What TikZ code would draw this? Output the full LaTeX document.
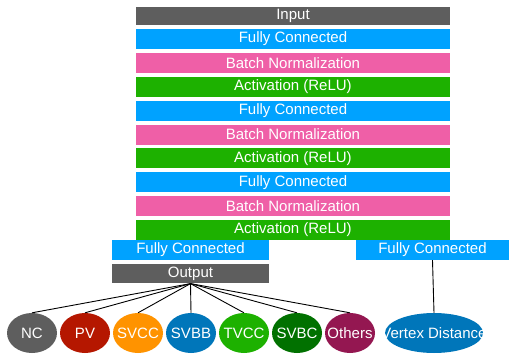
\documentclass[tikz,border=0pt]{standalone}
\usepackage{fontspec}
\setmainfont{Liberation Sans}
\usetikzlibrary{positioning, shapes.geometric}

\definecolor{layergray}{HTML}{5E5E5E}
\definecolor{fcblue}{HTML}{00A2FF}
\definecolor{bnpink}{HTML}{EF5FA7}
\definecolor{actgreen}{HTML}{1DB100}
\definecolor{pvred}{HTML}{B51700}
\definecolor{svccorange}{HTML}{FF9300}
\definecolor{svbbblue}{HTML}{0076BA}
\definecolor{svbcgreen}{HTML}{017100}
\definecolor{otherspurple}{HTML}{941751}

\begin{document}
\begin{tikzpicture}[
      x=1pt, y=1pt,
      node distance=3.5pt,
      every node/.style={text=white, font=\fontsize{15}{17}\selectfont, inner sep=0pt},
      layer/.style={rectangle, minimum width=314pt, minimum height=20pt},
      fc/.style={layer, fill=fcblue},
      bn/.style={layer, fill=bnpink},
      act/.style={layer, fill=actgreen},
      cls/.style={ellipse, minimum width=50pt, minimum height=40pt},
      wire/.style={draw=black, line width=0.9pt}
    ]
      \useasboundingbox (0,0) rectangle (509,-356);
      % shared trunk
      \node[layer, fill=layergray, minimum height=18pt] (in) at (293,-16) {Input};
      \node[fc, below=of in] (fc1) {Fully Connected};
      \node[bn, below=of fc1] (bn1) {Batch Normalization};
      \node[act, below=of bn1] (act1) {Activation (ReLU)};
      \node[fc, below=of act1] (fc2) {Fully Connected};
      \node[bn, below=of fc2] (bn2) {Batch Normalization};
      \node[act, below=of bn2] (act2) {Activation (ReLU)};
      \node[fc, below=of act2] (fc3) {Fully Connected};
      \node[bn, below=of fc3] (bn3) {Batch Normalization};
      \node[act, below=of bn3] (act3) {Activation (ReLU)};
      % heads
      \node[fc, minimum width=157pt] (fcl) at (190.5,-250) {Fully Connected};
      \node[layer, fill=layergray, minimum width=157pt, minimum height=19pt, below=4pt of fcl] (out) {Output};
      \node[fc, minimum width=153pt] (fcr) at (432.5,-250) {Fully Connected};
      % classes
      \node[cls, fill=layergray, label={center:NC}] (nc) at (32,-333) {};
      \node[cls, fill=pvred, label={center:PV}] (pv) at (85,-333) {};
      \node[cls, fill=svccorange, label={center:SVCC}] (svcc) at (138,-333) {};
      \node[cls, fill=svbbblue, label={center:SVBB}] (svbb) at (191,-333) {};
      \node[cls, fill=actgreen, label={center:TVCC}] (tvcc) at (244,-333) {};
      \node[cls, fill=svbcgreen, label={center:SVBC}] (svbc) at (297,-333) {};
      \node[cls, fill=otherspurple, label={center:Others}] (oth) at (350,-333) {};
      \node[cls, fill=svbbblue, minimum width=98pt, label={center:Vertex Distance}] (vd) at (434,-333) {};
      % connectors
      \draw[wire] (out.south) -- (nc.north);
      \draw[wire] (out.south) -- (pv.north);
      \draw[wire] (out.south) -- (svcc.north);
      \draw[wire] (out.south) -- (svbb.north);
      \draw[wire] (out.south) -- (tvcc.north);
      \draw[wire] (out.south) -- (svbc.north);
      \draw[wire] (out.south) -- (oth.north);
      \draw[wire] (fcr.south) -- (vd.north);
    \end{tikzpicture}
\end{document}
